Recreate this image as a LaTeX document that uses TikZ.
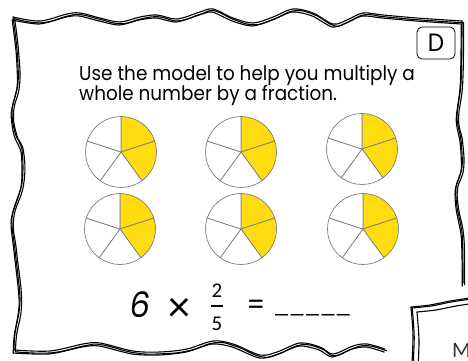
\documentclass[tikz,border=0pt]{standalone}
\usepackage{fontspec}
\setmainfont[FakeStretch=0.92]{Poppins}
\newfontfamily\digitfont{Carlito}
\begin{document}
\begin{tikzpicture}[x=1pt, y=-1pt, every node/.style={inner sep=0pt},
  sketch/.style={line width=1.1pt, line cap=round, line join=round},
  slice/.style={draw=pieline, line width=0.7pt}]
\definecolor{pieyellow}{RGB}{255,220,15}
\definecolor{pieline}{RGB}{125,125,125}
\useasboundingbox (0,0) rectangle (468,361);
% Wavy frame of the card: each edge drawn as three loose strokes
\foreach \dx/\dy/\t in {0/0/0.55, 1.6/1.8/0.75, -0.8/3.0/0.45} {
  \begin{scope}[shift={(\dx,\dy)}]
    \draw[sketch] plot[smooth, tension=\t] coordinates {(13,17) (40,21) (67,14) (80,13) (100,18) (120,22) (140,17) (157,15) (177,19) (200,12) (213,9) (233,18) (253,23) (273,17) (293,9) (313,13) (333,24) (347,20) (363,13) (383,15) (417,18) (462,21)};
    \draw[sketch] plot[smooth, tension=\t] coordinates {(13,17) (17,50) (18,83) (12,110) (15,133) (22,150) (22,183) (12,217) (15,250) (20,300) (15,333) (14,350)};
    \draw[sketch] plot[smooth, tension=\t] coordinates {(14,350) (50,351) (83,344) (100,343) (133,351) (160,352) (187,349) (213,341) (233,344) (260,355) (277,352) (300,343) (320,347) (333,354) (353,346) (367,344) (385,349)};
    \draw[sketch] plot[smooth, tension=\t] coordinates {(462,21) (462,33) (461,83) (457,117) (461,140) (462,167) (456,187) (457,207) (462,233) (463,267) (463,283)};
  \end{scope}
}
% Corner of the next card
\foreach \dx/\dy in {0/0, 1.2/1.0, 6/5} {
  \begin{scope}[shift={(\dx,\dy)}]
    \draw[sketch] plot[smooth] coordinates {(412,363) (413,335) (411,307)};
    \draw[sketch] plot[smooth] coordinates {(411,307) (430,305) (450,301) (470,298)};
  \end{scope}
}
\node[anchor=base west, font=\digitfont\fontsize{22}{22}\selectfont, text=black!80] (nextcard) at (452,357) {M};
% Card letter
\node[draw, rounded corners=5pt, line width=0.8pt, minimum width=38pt, minimum height=32pt,
  font=\fontsize{25}{25}\selectfont] (tag) at (436,43) {D};
% Prompt
\node[anchor=base west, font=\fontsize{20}{24}\selectfont] (line1) at (79,80) {Use the model to help you multiply a};
\node[anchor=base west, font=\fontsize{20}{24}\selectfont] (line2) at (79,100) {whole number by a fraction.};
% Fraction models: six circles in fifths, two fifths shaded
\foreach \cx/\cy [count=\i] in {121/152, 241/152, 362/149, 120/229, 241/229, 363/229} {
  \foreach \a [count=\k] in {90,18,-54,-126,-198} {
    \ifnum\k<3
      \filldraw[slice, fill=pieyellow] (\cx,\cy) -- ++(\a:35.5pt) arc[start angle=\a, end angle=\a-72, radius=35.5pt] -- cycle;
    \else
      \filldraw[slice, fill=white] (\cx,\cy) -- ++(\a:35.5pt) arc[start angle=\a, end angle=\a-72, radius=35.5pt] -- cycle;
    \fi
  }
}
% Number sentence
\node[anchor=base, font=\fontsize{35}{35}\selectfont\addfontfeature{FakeSlant=0.15}] (whole) at (139,317) {6};
\node[anchor=base, font=\digitfont\fontsize{44}{44}\selectfont] (times) at (179,321) {×};
\node[anchor=base, font=\digitfont\fontsize{21}{21}\selectfont] (num) at (217,297) {2};
\node[anchor=base, font=\digitfont\fontsize{21}{21}\selectfont] (den) at (217,330) {5};
\coordinate (barleft) at (211,306);
\coordinate (barright) at (223,306);
\draw[line width=1.8pt] (barleft) -- (barright);
\node[anchor=base, font=\fontsize{28}{28}\selectfont] (equals) at (256,314) {=};
\node[anchor=base west, font=\digitfont\fontsize{26}{26}\selectfont] (blank) at (275,312) {\_\kern2.5pt\_\kern2.5pt\_\kern2.5pt\_\kern2.5pt\_};
\end{tikzpicture}
\end{document}
